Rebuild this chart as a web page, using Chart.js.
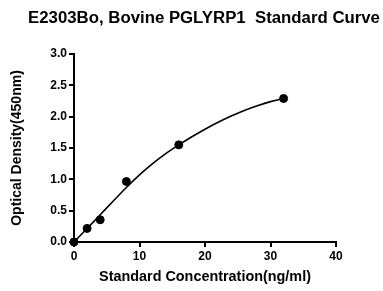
<!DOCTYPE html>
<html>
<head>
<meta charset="utf-8">
<script src="https://cdn.jsdelivr.net/npm/chart.js@4"></script>
<style>
  html, body { margin: 0; padding: 0; background: #fff; }
  #wrap { width: 383px; height: 291px; }
</style>
</head>
<body>
<div id="wrap"><canvas id="chart"></canvas></div>
<script>
const chartTitle = "E2303Bo, Bovine PGLYRP1  Standard Curve";
const xTitle = "Standard Concentration(ng/ml)";
const yTitle = "Optical Density(450nm)";

// measured standards
const concentrations = [0, 2, 4, 8, 16, 32];
const odValues = [0, 0.217, 0.355, 0.965, 1.55, 2.29];

// fitted curve
const curveX = [0, 2, 4, 6, 8, 10, 12, 14, 16, 18, 20, 22, 24, 26, 28, 30, 32];
const curveY = [0, 0.215, 0.435, 0.655, 0.87, 1.07, 1.25, 1.41, 1.55, 1.68, 1.80, 1.91, 2.01, 2.10, 2.175, 2.24, 2.29];

const FONT = "'Liberation Sans', Arial, sans-serif";

const titlePlugin = {
  id: "topTitle",
  afterDraw(chart) {
    const ctx = chart.ctx;
    ctx.save();
    ctx.font = "bold 16.8px " + FONT;
    ctx.fillStyle = "#000";
    ctx.textAlign = "center";
    ctx.textBaseline = "middle";
    ctx.fillText(chartTitle, 204, 18);
    ctx.restore();
  },
};

const ctx = document.getElementById("chart").getContext("2d");
new Chart(ctx, {
  type: "scatter",
  data: {
    datasets: [
      {
        label: "Fit",
        data: curveX.map((x, i) => ({ x, y: curveY[i] })),
        showLine: true,
        borderColor: "#000",
        borderWidth: 1.6,
        pointRadius: 0,
        cubicInterpolationMode: "monotone",
        clip: false,
      },
      {
        label: "Standards",
        data: concentrations.map((x, i) => ({ x, y: odValues[i] })),
        showLine: false,
        backgroundColor: "#000",
        borderColor: "#000",
        pointRadius: 4,
        clip: false,
      },
    ],
  },
  options: {
    responsive: true,
    maintainAspectRatio: false,
    animation: false,
    layout: { padding: { left: 5, right: 47, top: 54, bottom: 2 } },
    plugins: { legend: { display: false }, tooltip: { enabled: false }, title: { display: false } },
    scales: {
      x: {
        type: "linear",
        min: 0,
        max: 40,
        ticks: { stepSize: 10, color: "#000", padding: 2, font: { family: FONT, size: 12, weight: "bold" } },
        grid: { drawOnChartArea: false, drawTicks: true, tickLength: 5, color: "#000", lineWidth: 2 },
        border: { color: "#000", width: 2 },
        title: { display: true, text: xTitle, color: "#000", font: { family: FONT, size: 14.4, weight: "bold" }, padding: { top: 2, bottom: 3 } },
        afterFit: (s) => { s.height = 47; },
      },
      y: {
        min: 0,
        max: 3,
        ticks: { stepSize: 0.5, color: "#000", padding: 2, font: { family: FONT, size: 12, weight: "bold" }, callback: (v) => Number(v).toFixed(1) },
        grid: { drawOnChartArea: false, drawTicks: true, tickLength: 5, color: "#000", lineWidth: 2 },
        border: { color: "#000", width: 2 },
        title: { display: true, text: yTitle, color: "#000", font: { family: FONT, size: 14, weight: "bold" }, padding: { top: 4, bottom: 2 } },
        afterFit: (s) => { s.width = 69; },
      },
    },
  },
  plugins: [titlePlugin],
});
</script>
</body>
</html>
